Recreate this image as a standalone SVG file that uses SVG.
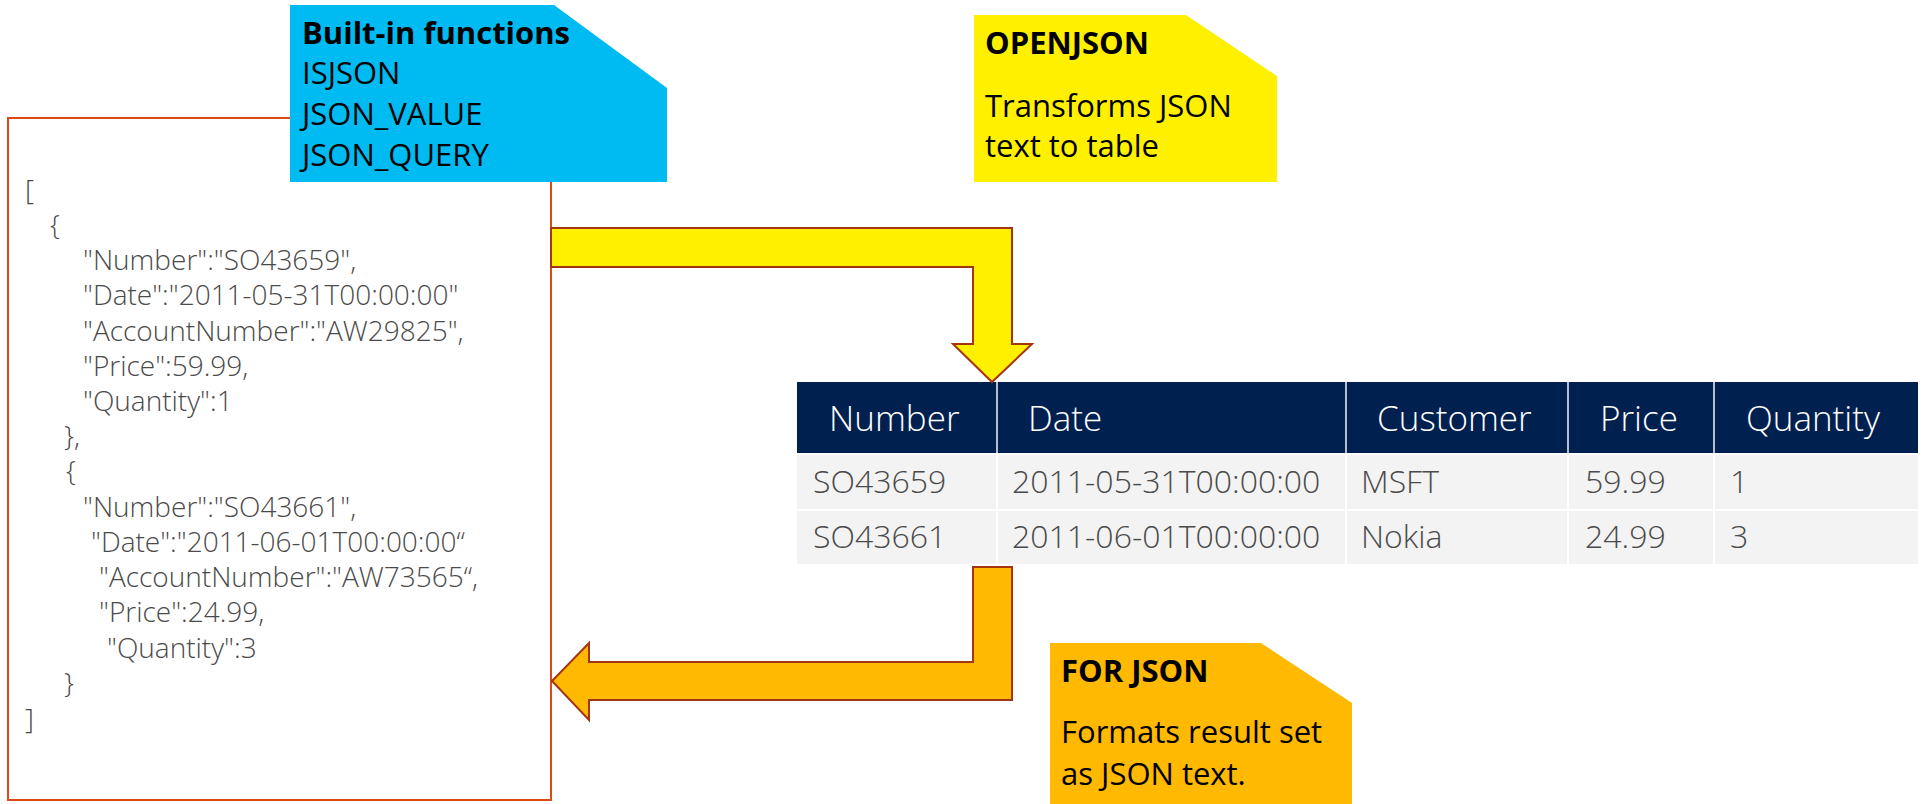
<svg xmlns="http://www.w3.org/2000/svg" width="1921" height="804" viewBox="0 0 1921 804">
<style>
.code{font-family:"Open Sans","Noto Sans",sans-serif;font-weight:300;font-size:28px;fill:#4a4a4a}
.nt{font-family:"Open Sans","Noto Sans",sans-serif;font-size:31px;fill:#000}
.nb{font-family:"Open Sans","Noto Sans",sans-serif;font-size:31px;font-weight:700;fill:#000}
.th{font-family:"Open Sans","Noto Sans",sans-serif;font-weight:300;font-size:35px;fill:#fff}
.td{font-family:"Open Sans","Noto Sans",sans-serif;font-weight:300;font-size:32px;fill:#4a4a4a}
.arrow{stroke:#A3360F;stroke-width:2;stroke-linejoin:miter}
</style>
<rect width="1921" height="804" fill="#fff"/>

<g id="json-text">
<rect x="8" y="118" width="543" height="682" fill="#fff" stroke="#DC4B16" stroke-width="2"/>
<text class="code" x="25" y="200">[</text>
<text class="code" x="50" y="235">{</text>
<text class="code" x="83" y="270">"Number":"SO43659",</text>
<text class="code" x="83" y="305">"Date":"2011-05-31T00:00:00"</text>
<text class="code" x="83" y="341">"AccountNumber":"AW29825",</text>
<text class="code" x="83" y="376">"Price":59.99,</text>
<text class="code" x="83" y="411">"Quantity":1</text>
<text class="code" x="64" y="446">},</text>
<text class="code" x="66" y="481">{</text>
<text class="code" x="83" y="517">"Number":"SO43661",</text>
<text class="code" x="91" y="552">"Date":"2011-06-01T00:00:00“</text>
<text class="code" x="99" y="587">"AccountNumber":"AW73565“,</text>
<text class="code" x="99" y="622">"Price":24.99,</text>
<text class="code" x="107" y="658">"Quantity":3</text>
<text class="code" x="64" y="693">}</text>
<text class="code" x="25" y="729">]</text>
</g>

<g id="builtin-functions">
<polygon points="290,5 554,5 667,88 667,182 290,182" fill="#00BBF1"/>
<text class="nb" x="302" y="44">Built-in functions</text>
<text class="nt" x="302" y="84">ISJSON</text>
<text class="nt" x="302" y="125">JSON_VALUE</text>
<text class="nt" x="302" y="166">JSON_QUERY</text>
</g>

<g id="openjson">
<polygon points="974,15 1186,15 1277,76 1277,182 974,182" fill="#FFF000"/>
<text class="nb" x="985" y="54">OPENJSON</text>
<text class="nt" x="985" y="117">Transforms JSON</text>
<text class="nt" x="985" y="157">text to table</text>
</g>

<g id="forjson">
<polygon points="1050,643 1261,643 1352,703 1352,804 1050,804" fill="#FFB900"/>
<text class="nb" x="1061" y="682">FOR JSON</text>
<text class="nt" x="1061" y="743">Formats result set</text>
<text class="nt" x="1061" y="785">as JSON text.</text>
</g>

<g id="result-table">
<rect x="797" y="382" width="1121" height="71" fill="#00204F"/>
<rect x="797" y="455" width="1121" height="109" fill="#F3F3F3"/>
<line x1="797" y1="510" x2="1918" y2="510" stroke="#fff" stroke-width="2"/>
<line x1="797" y1="454" x2="1918" y2="454" stroke="#fff" stroke-width="2"/>
<g stroke="#B4BED0" stroke-width="2">
<line x1="997" y1="382" x2="997" y2="453"/>
<line x1="1346" y1="382" x2="1346" y2="453"/>
<line x1="1568" y1="382" x2="1568" y2="453"/>
<line x1="1714" y1="382" x2="1714" y2="453"/>
</g>
<g stroke="#fff" stroke-width="2">
<line x1="997" y1="455" x2="997" y2="564"/>
<line x1="1346" y1="455" x2="1346" y2="564"/>
<line x1="1568" y1="455" x2="1568" y2="564"/>
<line x1="1714" y1="455" x2="1714" y2="564"/>
</g>
<text class="th" x="829" y="431">Number</text>
<text class="th" x="1028" y="431">Date</text>
<text class="th" x="1377" y="431">Customer</text>
<text class="th" x="1600" y="431">Price</text>
<text class="th" x="1746" y="431">Quantity</text>
<text class="td" x="813" y="493">SO43659</text>
<text class="td" x="1012" y="493">2011-05-31T00:00:00</text>
<text class="td" x="1361" y="493">MSFT</text>
<text class="td" x="1585" y="493">59.99</text>
<text class="td" x="1730" y="493">1</text>
<text class="td" x="813" y="548">SO43661</text>
<text class="td" x="1012" y="548">2011-06-01T00:00:00</text>
<text class="td" x="1361" y="548">Nokia</text>
<text class="td" x="1585" y="548">24.99</text>
<text class="td" x="1730" y="548">3</text>
</g>

<g id="connectors">
<polygon class="arrow" fill="#FFF000" points="551,228 1012,228 1012,344 1032,344 992,382 953,344 973,344 973,267 551,267"/>
<polygon class="arrow" fill="#FFB900" points="973,567 1012,567 1012,700 589,700 589,720 552,681 589,643 589,662 973,662"/>
</g>
</svg>
